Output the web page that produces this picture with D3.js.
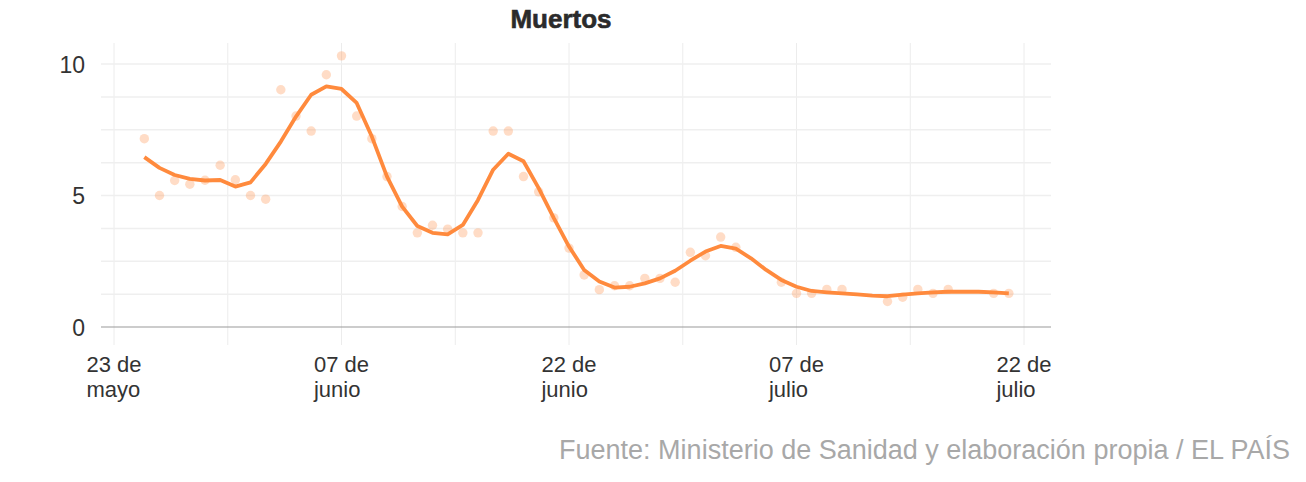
<!DOCTYPE html>
<html>
<head>
<meta charset="utf-8">
<script src="https://cdn.jsdelivr.net/npm/d3@7"></script>
<style>
  html, body { margin: 0; padding: 0; background: #fff; }
  svg { display: block; font-family: "Liberation Sans", Arial, sans-serif; }
</style>
</head>
<body>
<svg id="chart" width="1306" height="482"></svg>
<script>
// ---- data ----
const title = "Muertos";
const source = "Fuente: Ministerio de Sanidad y elaboración propia / EL PAÍS";

const dotDates = ["2020-05-25","2020-05-26","2020-05-27","2020-05-28","2020-05-29","2020-05-30","2020-05-31",
  "2020-06-01","2020-06-02","2020-06-03","2020-06-04","2020-06-05","2020-06-06","2020-06-07","2020-06-08",
  "2020-06-09","2020-06-10","2020-06-11","2020-06-12","2020-06-13","2020-06-14","2020-06-15","2020-06-16",
  "2020-06-17","2020-06-18","2020-06-19","2020-06-20","2020-06-21","2020-06-22","2020-06-23","2020-06-24",
  "2020-06-25","2020-06-26","2020-06-27","2020-06-28","2020-06-29","2020-06-30","2020-07-01","2020-07-02",
  "2020-07-03","2020-07-06","2020-07-07","2020-07-08","2020-07-09","2020-07-10","2020-07-13","2020-07-14",
  "2020-07-15","2020-07-16","2020-07-17","2020-07-20","2020-07-21"];
const dotValues = [7.16,5.0,5.57,5.43,5.58,6.15,5.6,
  5.0,4.86,9.02,8.02,7.45,9.59,10.31,8.02,
  7.16,5.72,4.58,3.58,3.87,3.72,3.58,3.58,
  7.45,7.45,5.72,5.14,4.15,3.0,1.98,1.42,
  1.57,1.57,1.85,1.85,1.70,2.84,2.71,3.42,
  3.03,1.70,1.28,1.28,1.43,1.43,0.97,1.13,
  1.43,1.28,1.43,1.28,1.28];

const lineDates = ["2020-05-25","2020-05-26","2020-05-27","2020-05-28","2020-05-29","2020-05-30","2020-05-31",
  "2020-06-01","2020-06-02","2020-06-03","2020-06-04","2020-06-05","2020-06-06","2020-06-07","2020-06-08",
  "2020-06-09","2020-06-10","2020-06-11","2020-06-12","2020-06-13","2020-06-14","2020-06-15","2020-06-16",
  "2020-06-17","2020-06-18","2020-06-19","2020-06-20","2020-06-21","2020-06-22","2020-06-23","2020-06-24",
  "2020-06-25","2020-06-26","2020-06-27","2020-06-28","2020-06-29","2020-06-30","2020-07-01","2020-07-02",
  "2020-07-03","2020-07-04","2020-07-05","2020-07-06","2020-07-07","2020-07-08","2020-07-09","2020-07-10",
  "2020-07-11","2020-07-12","2020-07-13","2020-07-14","2020-07-15","2020-07-16","2020-07-17","2020-07-18",
  "2020-07-19","2020-07-20","2020-07-21"];
const lineValues = [6.46,6.05,5.78,5.63,5.57,5.59,5.34,
  5.5,6.2,7.05,8.0,8.83,9.15,9.05,8.52,
  7.24,5.72,4.58,3.84,3.58,3.52,3.88,4.83,
  5.98,6.59,6.3,5.28,4.14,3.06,2.17,1.73,
  1.5,1.53,1.66,1.85,2.14,2.52,2.87,3.08,
  2.98,2.61,2.17,1.79,1.53,1.37,1.32,1.28,
  1.24,1.19,1.17,1.23,1.28,1.32,1.34,1.34,
  1.34,1.32,1.28];

const xTickDates = ["2020-05-23","2020-06-07","2020-06-22","2020-07-07","2020-07-22"];
const xTickLine1 = ["23 de","07 de","22 de","07 de","22 de"];
const xTickLine2 = ["mayo","junio","junio","julio","julio"];
const yTicks = [0, 5, 10];
const yGrid = [0, 1.25, 2.5, 3.75, 5, 6.25, 7.5, 8.75, 10];

// ---- layout ----
const parse = d3.timeParse("%Y-%m-%d");
const svg = d3.select("#chart");
const plotLeft = 101, plotRight = 1051, plotTop = 43, gridBottom = 345;

const x = d3.scaleTime()
  .domain([parse("2020-05-23"), parse("2020-07-22")])
  .range([114, 1024]);
const y = d3.scaleLinear().domain([0, 10]).range([327, 64]);

// vertical grid every 7.5 days
const vGrid = d3.range(0, 9).map(i => new Date(parse("2020-05-23").getTime() + i * 7.5 * 86400000));

svg.append("g").selectAll("line").data(vGrid).join("line")
  .attr("x1", d => x(d)).attr("x2", d => x(d))
  .attr("y1", plotTop).attr("y2", gridBottom)
  .attr("stroke", "#ececec").attr("stroke-width", 1);

svg.append("g").selectAll("line").data(yGrid.filter(v => v !== 0)).join("line")
  .attr("x1", plotLeft).attr("x2", plotRight)
  .attr("y1", d => y(d)).attr("y2", d => y(d))
  .attr("stroke", "#efefef").attr("stroke-width", 1.5);

// zero axis
svg.append("line")
  .attr("x1", plotLeft).attr("x2", plotRight)
  .attr("y1", y(0)).attr("y2", y(0))
  .attr("stroke", "#999").attr("stroke-width", 1);

// y labels
svg.append("g").selectAll("text").data(yTicks).join("text")
  .attr("x", 85).attr("y", d => y(d) + 8.5)
  .attr("text-anchor", "end")
  .attr("font-size", 23).attr("fill", "#333")
  .text(d => d);

// x labels
const xl = svg.append("g");
xTickDates.forEach((ds, i) => {
  const cx = x(parse(ds));
  const t = xl.append("text").attr("font-size", 22).attr("fill", "#333");
  const t1 = t.append("tspan").text(xTickLine1[i]);
  const w = t1.node().getComputedTextLength();
  const left = cx - w / 2;
  t1.attr("x", left).attr("y", 372);
  t.append("tspan").attr("x", left).attr("y", 397).text(xTickLine2[i]);
});

// dots
const dots = dotDates.map((d, i) => ({ date: parse(d), value: dotValues[i] }));
svg.append("g").selectAll("circle").data(dots).join("circle")
  .attr("cx", d => x(d.date)).attr("cy", d => y(d.value))
  .attr("r", 4.7)
  .attr("fill", "#ff8c42").attr("fill-opacity", 0.3);

// line
const lineData = lineDates.map((d, i) => ({ date: parse(d), value: lineValues[i] }));
svg.append("path").datum(lineData)
  .attr("d", d3.line().x(d => x(d.date)).y(d => y(d.value)))
  .attr("fill", "none").attr("stroke", "#ff8a3d")
  .attr("stroke-width", 3.8).attr("stroke-linejoin", "round");

// title
svg.append("text")
  .attr("x", 561).attr("y", 28)
  .attr("text-anchor", "middle")
  .attr("font-size", 26).attr("font-weight", "bold").attr("fill", "#2b2b2b")
  .attr("stroke", "#2b2b2b").attr("stroke-width", 0.6)
  .text(title);

// source (sized to span the same width as the original)
const src = svg.append("text")
  .attr("x", 1290).attr("y", 459)
  .attr("text-anchor", "end")
  .attr("font-size", 22).attr("fill", "#a8a8a8")
  .text(source);
const sw = src.node().getComputedTextLength();
src.attr("font-size", 22 * 731 / sw);
</script>
</body>
</html>
